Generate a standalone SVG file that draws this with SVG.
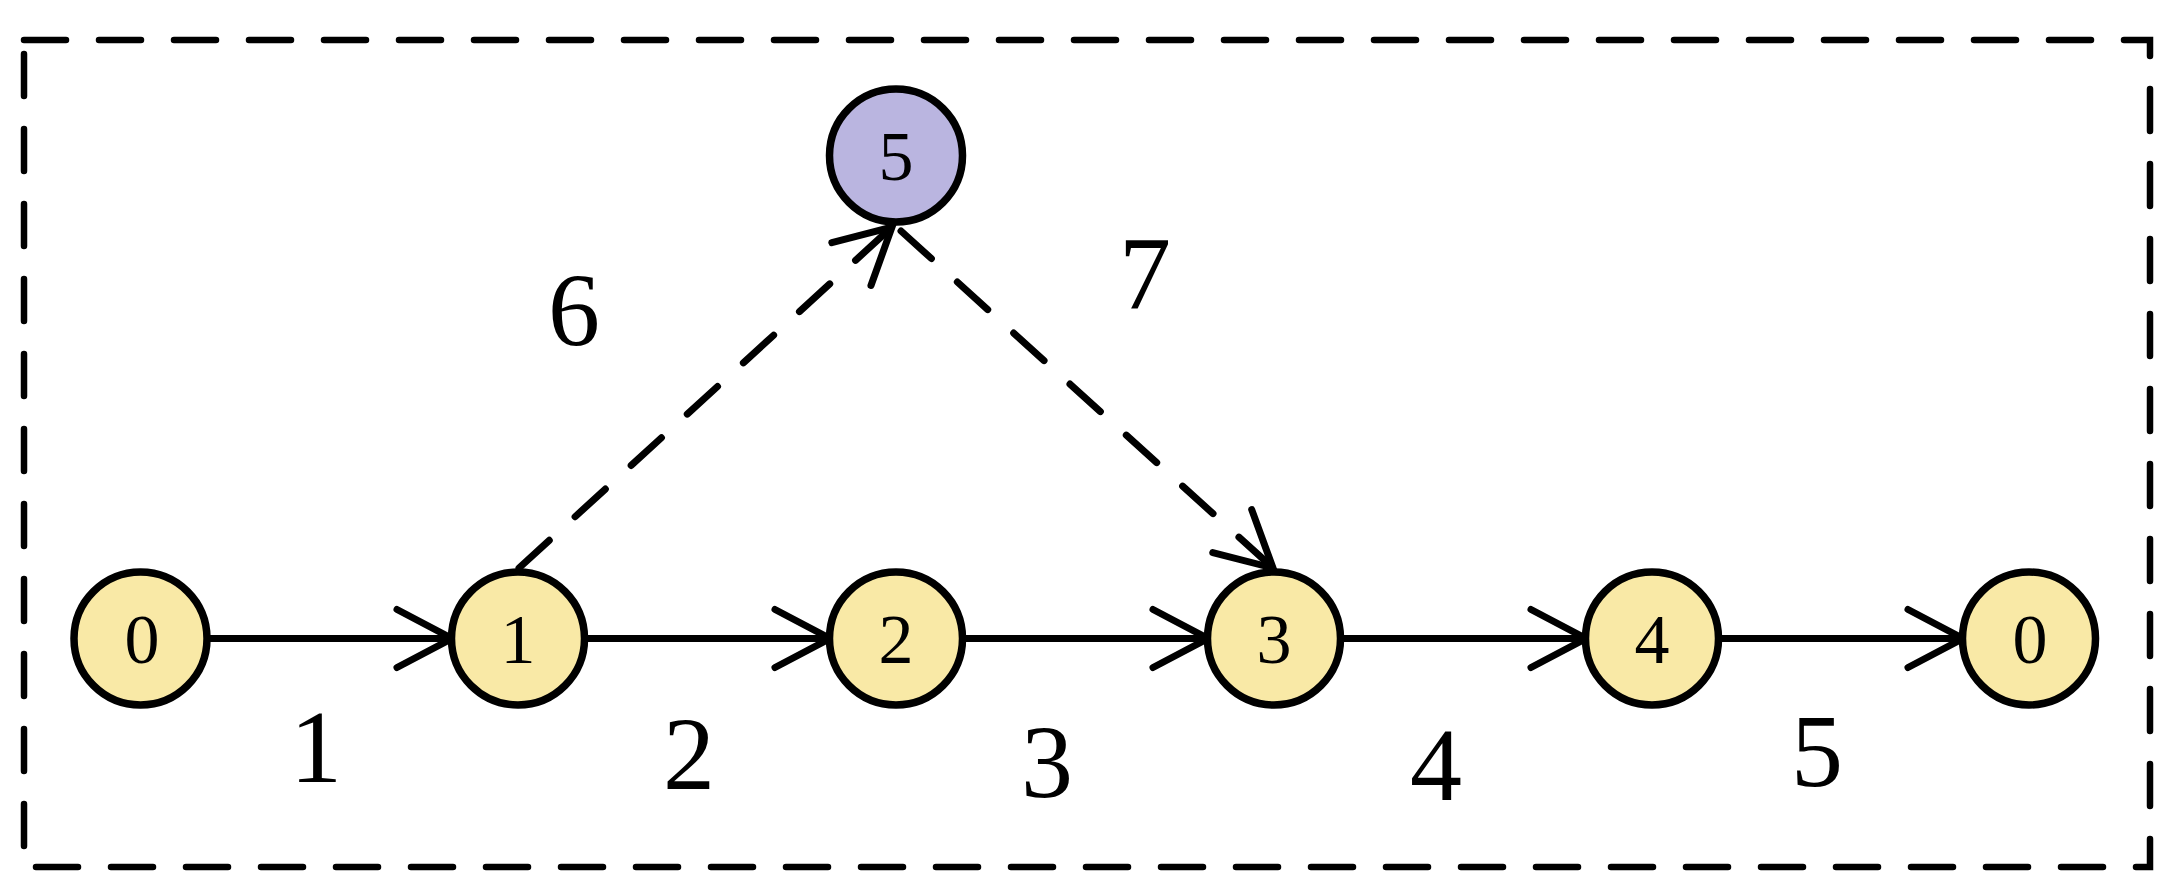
<svg xmlns="http://www.w3.org/2000/svg" width="2174" height="895" viewBox="0 0 2174 895">
  <style>
    .node { stroke: #000; stroke-width: 7.5; }
    .yellow { fill: #F9E9A6; }
    .purple { fill: #BAB5E0; }
    .nlabel { font-family: "Liberation Serif", "Times New Roman", serif; font-size: 70px; text-anchor: middle; fill: #000; }
    .elabel { font-family: "Liberation Serif", "Times New Roman", serif; font-size: 104px; text-anchor: middle; fill: #000; }
    .edge { stroke: #000; stroke-width: 7; fill: none; }
    .dashed { stroke-dasharray: 41 35; stroke-linecap: round; }
    .frame { fill: none; stroke: #000; stroke-width: 6.5; stroke-dasharray: 42 33; stroke-linecap: round; }
  </style>
  <defs>
    <marker id="arrow" markerUnits="userSpaceOnUse" viewBox="-60 -35 64 70" refX="0" refY="0" markerWidth="64" markerHeight="70" orient="auto" overflow="visible">
      <path d="M -55 -29 L 0 0 L -55 29" fill="none" stroke="#000" stroke-width="7" stroke-dasharray="none" stroke-linecap="round" stroke-linejoin="miter"/>
    </marker>
  </defs>
  <rect class="frame" x="24" y="40" width="2126" height="827"/>
  <g id="connectors">
    <line class="edge" x1="210" y1="638.5" x2="452" y2="638.5" marker-end="url(#arrow)"/>
    <line class="edge" x1="588" y1="638.5" x2="830" y2="638.5" marker-end="url(#arrow)"/>
    <line class="edge" x1="966" y1="638.5" x2="1208" y2="638.5" marker-end="url(#arrow)"/>
    <line class="edge" x1="1344" y1="638.5" x2="1586" y2="638.5" marker-end="url(#arrow)"/>
    <line class="edge" x1="1721" y1="638.5" x2="1963" y2="638.5" marker-end="url(#arrow)"/>
    <line class="edge dashed" x1="519" y1="568" x2="892" y2="227" marker-end="url(#arrow)"/>
    <line class="edge dashed" x1="901" y1="231" x2="1273" y2="568" marker-end="url(#arrow)"/>
    <text class="elabel" x="316" y="782">1</text>
    <text class="elabel" x="689" y="789">2</text>
    <text class="elabel" x="1047" y="797">3</text>
    <text class="elabel" x="1436" y="800">4</text>
    <text class="elabel" x="1817" y="786">5</text>
    <text class="elabel" x="574" y="345">6</text>
    <text class="elabel" x="1145" y="308">7</text>
  </g>
  <g id="node-0a"><circle class="node yellow" cx="140.5" cy="638.5" r="66.5"/><text class="nlabel" x="142" y="662.5">0</text></g>
  <g id="node-1"><circle class="node yellow" cx="518" cy="638.5" r="66.5"/><text class="nlabel" x="518" y="662.5">1</text></g>
  <g id="node-2"><circle class="node yellow" cx="896" cy="638.5" r="66.5"/><text class="nlabel" x="896" y="662.5">2</text></g>
  <g id="node-3"><circle class="node yellow" cx="1274" cy="638.5" r="66.5"/><text class="nlabel" x="1274" y="662.5">3</text></g>
  <g id="node-4"><circle class="node yellow" cx="1652" cy="638.5" r="66.5"/><text class="nlabel" x="1652" y="662.5">4</text></g>
  <g id="node-0b"><circle class="node yellow" cx="2029" cy="638.5" r="66.5"/><text class="nlabel" x="2030" y="662.5">0</text></g>
  <g id="node-5"><circle class="node purple" cx="896" cy="155.5" r="66.5"/><text class="nlabel" x="896" y="180">5</text></g>
</svg>
